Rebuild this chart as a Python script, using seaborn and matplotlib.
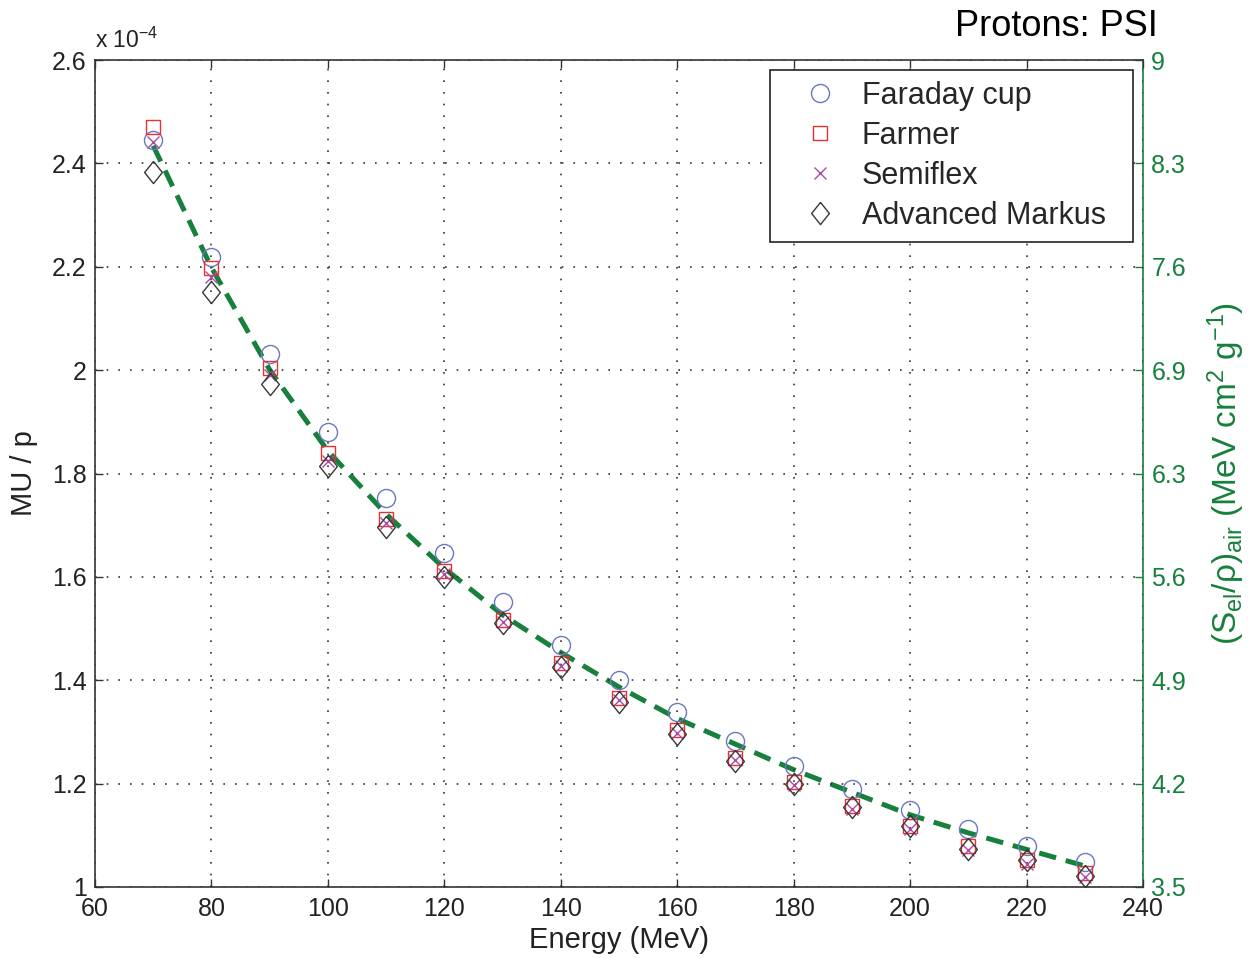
import numpy as np
import pandas as pd
import matplotlib
matplotlib.use("Agg")
import matplotlib.pyplot as plt
import seaborn as sns

energy = [70, 80, 90, 100, 110, 120, 130, 140, 150, 160, 170, 180, 190, 200, 210, 220, 230]
faraday = [2.445, 2.219, 2.031, 1.880, 1.753, 1.646, 1.551, 1.468, 1.400, 1.339, 1.282,
           1.234, 1.190, 1.149, 1.112, 1.079, 1.048]
farmer = [2.470, 2.198, 2.004, 1.840, 1.712, 1.611, 1.517, 1.433, 1.366, 1.304, 1.250,
          1.203, 1.157, 1.118, 1.079, 1.052, 1.027]
semiflex = [2.441, 2.180, 1.990, 1.825, 1.705, 1.605, 1.512, 1.428, 1.362, 1.298, 1.245,
            1.197, 1.150, 1.112, 1.072, 1.045, 1.020]
markus = [2.383, 2.151, 1.973, 1.814, 1.696, 1.600, 1.511, 1.426, 1.358, 1.296, 1.244,
          1.199, 1.155, 1.118, 1.074, 1.052, 1.021]
stopping_power = [8.43, 7.62, 6.94, 6.40, 5.98, 5.62, 5.31, 5.06, 4.83, 4.62, 4.45,
                  4.28, 4.13, 3.98, 3.86, 3.75, 3.64]

left_ticks = [1.0, 1.2, 1.4, 1.6, 1.8, 2.0, 2.2, 2.4, 2.6]
left_labels = ["1", "1.2", "1.4", "1.6", "1.8", "2", "2.2", "2.4", "2.6"]
right_labels = ["3.5", "4.2", "4.9", "5.6", "6.3", "6.9", "7.6", "8.3", "9"]
x_ticks = [60, 80, 100, 120, 140, 160, 180, 200, 220, 240]

sns.set_theme(style="white")
plt.rcParams['font.family'] = ['Liberation Sans', 'DejaVu Sans']
plt.rcParams['mathtext.fontset'] = 'custom'
plt.rcParams['mathtext.rm'] = 'Liberation Sans'
plt.rcParams['mathtext.it'] = 'Liberation Sans'
plt.rcParams['mathtext.bf'] = 'Liberation Sans:bold'

green = "#16803c"
fig = plt.figure(figsize=(12.54, 9.58), dpi=100)
ax = fig.add_axes([95/1254, 1-887/958, (1143-95)/1254, (887-60)/958])
ax2 = ax.twinx()

df = pd.DataFrame({"Energy": energy, "faraday": faraday, "farmer": farmer,
                   "semiflex": semiflex, "markus": markus, "sp": stopping_power})

diamond = [(0, 1), (0.8, 0), (0, -1), (-0.8, 0), (0, 1)]
series = [
    ("faraday", "Faraday cup", "o", "#6a78c0", 13),
    ("farmer", "Farmer", "s", "#e8302e", 10),
    ("semiflex", "Semiflex", "x", "#b048a8", 9),
    ("markus", "Advanced Markus", diamond, "#383838", 16),
]
for col, lab, mk, c, ms in series:
    sns.lineplot(data=df, x="Energy", y=col, ax=ax, linestyle="none", marker=mk,
                 mfc="none", mec=c, color=c, ms=ms, mew=1.0,
                 label=lab, legend=False)

sns.lineplot(data=df, x="Energy", y="sp", ax=ax2, color=green, lw=3.6,
             linestyle=(0, (3.5, 2.0)), legend=False)

ax.set_xlim(60, 240)
ax.set_ylim(1.0, 2.6)
ax2.set_ylim(3.5, 9.0)
ax.set_xticks(x_ticks)
ax.set_xticklabels([str(t) for t in x_ticks])
ax.set_yticks(left_ticks)
ax.set_yticklabels(left_labels)
ax2.set_yticks(np.linspace(3.5, 9.0, 9))
ax2.set_yticklabels(right_labels)

ax.grid(True, color="#333333", linestyle=(0, (1, 6)), linewidth=1.2)
ax.set_axisbelow(True)
for s in ["left", "top", "bottom"]:
    ax.spines[s].set_color("#333333")
    ax.spines[s].set_linewidth(1.2)
ax.spines["right"].set_visible(False)
for s in ["left", "top", "bottom"]:
    ax2.spines[s].set_visible(False)
ax2.spines["right"].set_color(green)
ax2.spines["right"].set_linewidth(1.2)

ax.tick_params(axis="both", direction="in", length=6, width=1, colors="#333333",
               labelsize=18, top=True, left=True, bottom=True, right=False,
               labelcolor="#222222")
ax.tick_params(axis="x", pad=7)
ax.tick_params(axis="y", pad=6)
ax2.tick_params(axis="y", direction="in", length=6, width=1, colors=green,
                labelsize=18, right=True, labelcolor=green, pad=6)

ax.set_xlabel("Energy (MeV)", fontsize=21, color="#222222", labelpad=4)
ax.set_ylabel("MU / p", fontsize=21, color="#222222", labelpad=10)
ax2.set_ylabel(r"(S$_{\mathrm{el}}$/ρ)$_{\mathrm{air}}$ (MeV cm$^{2}$ g$^{-1}$)",
               fontsize=24, color=green, labelpad=14)

fig.text(95/1254, 1-48/958, r"x 10$^{-4}$", fontsize=16.5, color="#222222",
         ha="left", va="baseline")
fig.text(1158/1254, 1-26/958, "Protons: PSI", fontsize=26, color="black",
         ha="right", va="center")

handles, labels = ax.get_legend_handles_labels()
leg = ax.legend(handles, labels, loc="upper left",
                bbox_to_anchor=(0.644, 0.0, 0.3465, 0.9879), mode="expand",
                fontsize=22, frameon=True, fancybox=False, handlelength=2.6,
                handletextpad=0.05, borderpad=0.35, labelspacing=0.33,
                borderaxespad=0)
leg.get_frame().set_edgecolor("#222222")
leg.get_frame().set_linewidth(1.2)
leg.get_frame().set_alpha(1)
ax2.set_zorder(0)
ax.set_zorder(1)
ax.patch.set_visible(False)

fig.savefig("out.png", dpi=100)
